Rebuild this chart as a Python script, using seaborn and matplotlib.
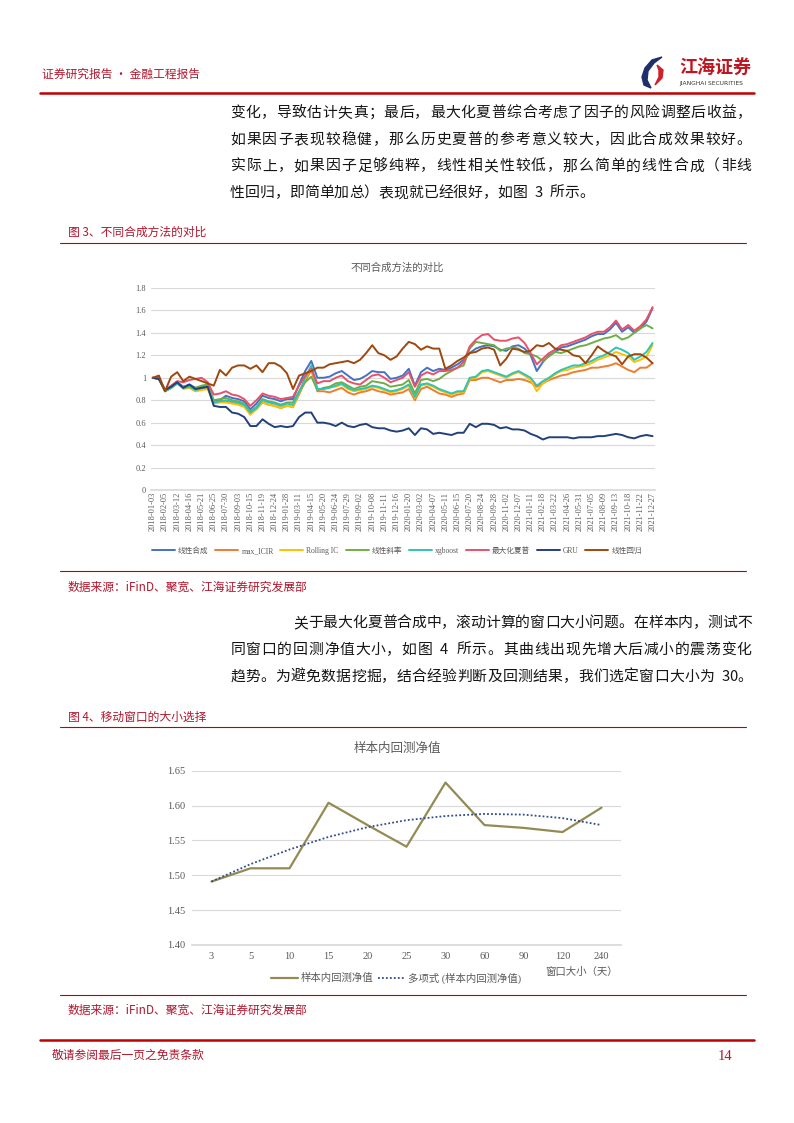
import numpy as np
import pandas as pd
import matplotlib
matplotlib.use("Agg")
import matplotlib.pyplot as plt
import seaborn as sns
from matplotlib.lines import Line2D
from matplotlib.patches import Polygon

sns.set_theme(style="white")
plt.rcParams['font.family'] = ['Noto Sans CJK SC', 'DejaVu Sans']
plt.rcParams['axes.unicode_minus'] = False

W, H = 794, 1123
RED = '#B0182E'
LINE_RED = '#C00000'
GRID = '#D9D9D9'
TICK = '#595959'
TEXT = '#151515'
SERIF = ['Liberation Serif', 'Noto Sans CJK SC']

# ---- fig 3: net value of the combination methods (two readings per date label) ----
tick_dates = ['2018-01-03', '2018-02-05', '2018-03-12', '2018-04-16', '2018-05-21', '2018-06-25',
              '2018-07-30', '2018-09-03', '2018-10-15', '2018-11-19', '2018-12-24', '2019-01-28',
              '2019-03-11', '2019-04-15', '2019-05-20', '2019-06-24', '2019-07-29', '2019-09-02',
              '2019-10-08', '2019-11-11', '2019-12-16', '2020-01-20', '2020-03-02', '2020-04-07',
              '2020-05-11', '2020-06-15', '2020-07-20', '2020-08-24', '2020-09-28', '2020-11-02',
              '2020-12-07', '2021-01-11', '2021-02-18', '2021-03-22', '2021-04-26', '2021-05-31',
              '2021-07-05', '2021-08-09', '2021-09-13', '2021-10-18', '2021-11-22', '2021-12-27']
methods = ['线性合成', 'max_ICIR', 'Rolling IC', '线性斜率', 'xgboost', '最大化夏普', 'GRU', '线性回归']
colors = ['#4472C4', '#ED7D31', '#FFC000', '#70AD47', '#2EC4B6', '#E9506A', '#22407A', '#9E480E']

linear_comb = [1.00, 1.00, 0.89, 0.92, 0.96, 0.92, 0.94, 0.91, 0.92, 0.93,
               0.79, 0.80, 0.84, 0.82, 0.81, 0.79, 0.72, 0.77, 0.84, 0.82,
               0.81, 0.79, 0.81, 0.81, 0.94, 1.06, 1.15, 1.00, 1.00, 1.01,
               1.04, 1.06, 1.02, 0.98, 0.99, 1.02, 1.06, 1.05, 1.05, 0.99,
               1.00, 1.02, 1.08, 0.93, 1.05, 1.09, 1.06, 1.08, 1.07, 1.09,
               1.12, 1.16, 1.22, 1.26, 1.28, 1.29, 1.28, 1.25, 1.24, 1.28,
               1.29, 1.26, 1.20, 1.06, 1.14, 1.20, 1.23, 1.27, 1.28, 1.30,
               1.32, 1.34, 1.37, 1.39, 1.39, 1.43, 1.49, 1.41, 1.45, 1.40,
               1.44, 1.50, 1.62]
max_icir = [1.00, 0.99, 0.88, 0.91, 0.95, 0.91, 0.92, 0.88, 0.90, 0.91,
            0.78, 0.79, 0.79, 0.78, 0.77, 0.75, 0.68, 0.72, 0.78, 0.76,
            0.75, 0.73, 0.75, 0.74, 0.85, 0.97, 1.07, 0.88, 0.88, 0.87,
            0.89, 0.91, 0.87, 0.85, 0.87, 0.88, 0.90, 0.88, 0.87, 0.85,
            0.86, 0.87, 0.90, 0.80, 0.90, 0.92, 0.89, 0.86, 0.85, 0.83,
            0.85, 0.86, 0.98, 0.98, 1.00, 1.00, 0.98, 0.96, 0.98, 0.98,
            0.99, 0.98, 0.96, 0.92, 0.95, 0.98, 1.00, 1.02, 1.03, 1.05,
            1.06, 1.07, 1.09, 1.09, 1.10, 1.11, 1.13, 1.10, 1.07, 1.05,
            1.09, 1.09, 1.13]
rolling_ic = [1.00, 0.99, 0.88, 0.91, 0.95, 0.90, 0.91, 0.88, 0.89, 0.90,
              0.77, 0.78, 0.78, 0.77, 0.76, 0.74, 0.67, 0.72, 0.78, 0.76,
              0.75, 0.73, 0.75, 0.74, 0.86, 0.99, 1.09, 0.90, 0.90, 0.92,
              0.92, 0.94, 0.90, 0.88, 0.89, 0.90, 0.92, 0.91, 0.89, 0.87,
              0.88, 0.90, 0.93, 0.82, 0.93, 0.94, 0.92, 0.89, 0.87, 0.85,
              0.87, 0.87, 0.99, 1.00, 1.05, 1.06, 1.04, 1.02, 1.00, 1.03,
              1.05, 1.02, 0.98, 0.88, 0.95, 0.99, 1.03, 1.06, 1.07, 1.09,
              1.10, 1.11, 1.13, 1.16, 1.18, 1.20, 1.23, 1.21, 1.19, 1.14,
              1.16, 1.19, 1.29]
linear_slope = [1.00, 0.99, 0.88, 0.91, 0.95, 0.92, 0.93, 0.91, 0.93, 0.94,
                0.80, 0.81, 0.82, 0.80, 0.79, 0.77, 0.70, 0.74, 0.81, 0.79,
                0.78, 0.76, 0.78, 0.78, 0.88, 0.96, 1.01, 0.89, 0.91, 0.92,
                0.95, 0.96, 0.93, 0.90, 0.92, 0.93, 0.97, 0.96, 0.95, 0.92,
                0.93, 0.94, 0.98, 0.86, 0.98, 0.99, 0.97, 0.99, 1.03, 1.06,
                1.09, 1.11, 1.26, 1.32, 1.31, 1.30, 1.29, 1.24, 1.26, 1.27,
                1.26, 1.22, 1.21, 1.19, 1.15, 1.19, 1.23, 1.22, 1.24, 1.26,
                1.28, 1.29, 1.31, 1.33, 1.35, 1.36, 1.38, 1.34, 1.36, 1.40,
                1.44, 1.47, 1.44]
xgboost = [1.00, 0.99, 0.88, 0.91, 0.95, 0.91, 0.92, 0.89, 0.91, 0.92,
           0.78, 0.79, 0.80, 0.79, 0.78, 0.76, 0.69, 0.73, 0.80, 0.78,
           0.77, 0.75, 0.77, 0.76, 0.87, 1.00, 1.11, 0.90, 0.90, 0.91,
           0.93, 0.95, 0.91, 0.89, 0.90, 0.91, 0.93, 0.92, 0.90, 0.88,
           0.89, 0.91, 0.94, 0.83, 0.94, 0.95, 0.93, 0.90, 0.88, 0.86,
           0.88, 0.88, 1.00, 1.01, 1.06, 1.07, 1.05, 1.03, 1.01, 1.04,
           1.06, 1.03, 1.00, 0.93, 0.97, 1.00, 1.04, 1.07, 1.09, 1.11,
           1.11, 1.13, 1.15, 1.18, 1.20, 1.23, 1.27, 1.25, 1.22, 1.16,
           1.19, 1.23, 1.31]
max_sharpe = [1.00, 0.99, 0.89, 0.93, 0.97, 0.96, 0.98, 0.99, 1.00, 0.96,
              0.85, 0.86, 0.88, 0.85, 0.84, 0.81, 0.75, 0.80, 0.86, 0.84,
              0.83, 0.81, 0.82, 0.83, 0.93, 1.02, 1.08, 0.95, 0.97, 0.97,
              1.00, 1.02, 0.97, 0.95, 0.94, 0.98, 1.02, 1.03, 1.00, 0.96,
              0.98, 1.00, 1.05, 0.92, 1.02, 1.05, 1.03, 1.06, 1.06, 1.07,
              1.09, 1.14, 1.28, 1.34, 1.38, 1.39, 1.34, 1.33, 1.33, 1.35,
              1.36, 1.31, 1.22, 1.12, 1.17, 1.22, 1.25, 1.29, 1.30, 1.32,
              1.34, 1.36, 1.39, 1.41, 1.41, 1.45, 1.51, 1.43, 1.47, 1.42,
              1.46, 1.52, 1.63]
gru = [1.00, 0.99, 0.89, 0.92, 0.96, 0.91, 0.94, 0.90, 0.91, 0.92,
       0.75, 0.74, 0.74, 0.69, 0.68, 0.65, 0.57, 0.57, 0.63, 0.59,
       0.56, 0.57, 0.56, 0.57, 0.65, 0.69, 0.69, 0.60, 0.60, 0.59,
       0.57, 0.60, 0.57, 0.56, 0.58, 0.59, 0.56, 0.55, 0.55, 0.53,
       0.52, 0.53, 0.55, 0.49, 0.55, 0.54, 0.50, 0.51, 0.50, 0.49,
       0.51, 0.51, 0.59, 0.56, 0.59, 0.59, 0.58, 0.55, 0.56, 0.54,
       0.54, 0.53, 0.50, 0.48, 0.45, 0.47, 0.47, 0.47, 0.47, 0.46,
       0.47, 0.47, 0.47, 0.48, 0.48, 0.49, 0.50, 0.49, 0.47, 0.46,
       0.48, 0.49, 0.48]
linear_reg = [1.00, 1.02, 0.88, 1.01, 1.05, 0.97, 1.01, 0.99, 0.97, 0.95,
              0.93, 1.07, 1.02, 1.09, 1.11, 1.11, 1.08, 1.11, 1.05, 1.13,
              1.13, 1.10, 1.04, 0.90, 1.02, 1.04, 1.06, 1.09, 1.09, 1.12,
              1.13, 1.14, 1.15, 1.13, 1.16, 1.22, 1.29, 1.22, 1.20, 1.16,
              1.19, 1.26, 1.32, 1.30, 1.25, 1.28, 1.26, 1.26, 1.08, 1.11,
              1.15, 1.18, 1.22, 1.23, 1.26, 1.27, 1.25, 1.11, 1.17, 1.26,
              1.25, 1.23, 1.24, 1.29, 1.28, 1.31, 1.26, 1.25, 1.24, 1.20,
              1.19, 1.13, 1.20, 1.28, 1.24, 1.21, 1.19, 1.12, 1.19, 1.21,
              1.21, 1.18, 1.13]
y1_ticks = [0, 0.2, 0.4, 0.6, 0.8, 1.0, 1.2, 1.4, 1.6, 1.8]
y1_labels = ['0', '0.2', '0.4', '0.6', '0.8', '1', '1.2', '1.4', '1.6', '1.8']

# ---- fig 4: in-sample net value by rolling window ----
windows = ['3', '5', '10', '15', '20', '25', '30', '60', '90', '120', '240']
net_value = [1.491, 1.510, 1.510, 1.604, 1.572, 1.541, 1.633, 1.572, 1.568, 1.562, 1.597]
poly_trend = [1.491, 1.516, 1.537, 1.555, 1.569, 1.579, 1.585, 1.588, 1.587, 1.582, 1.572]
y2_ticks = [1.40, 1.45, 1.50, 1.55, 1.60, 1.65]

para1 = ['变化，导致估计失真；最后，最大化夏普综合考虑了因子的风险调整后收益，',
         '如果因子表现较稳健，那么历史夏普的参考意义较大，因此合成效果较好。',
         '实际上，如果因子足够纯粹，线性相关性较低，那么简单的线性合成（非线',
         '性回归，即简单加总）表现就已经很好，如图 3 所示。']
para2 = ['关于最大化夏普合成中，滚动计算的窗口大小问题。在样本内，测试不',
         '同窗口的回测净值大小，如图 4 所示。其曲线出现先增大后减小的震荡变化',
         '趋势。为避免数据挖掘，结合经验判断及回测结果，我们选定窗口大小为 30。']
source = '数据来源：iFinD、聚宽、江海证券研究发展部'

fig = plt.figure(figsize=(W / 100, H / 100), dpi=100)
bg = fig.add_axes([0, 0, 1, 1])
bg.set_xlim(0, W)
bg.set_ylim(H, 0)
bg.axis('off')


def px_axes(x0, y0, x1, y1):
    return fig.add_axes([x0 / W, 1 - y1 / H, (x1 - x0) / W, (y1 - y0) / H])


def put_line(x0, x1, y, s, size=10.7, justify=True):
    # spread the characters over the line like justified text
    weights = [0.5 if ord(c) < 128 else 1.0 for c in s]
    unit = (x1 - x0) / sum(weights) if justify else size * 100 / 72
    x = x0
    for c, w in zip(s, weights):
        bg.text(x + unit * w / 2, y, c, fontsize=size, ha='center', va='center', color=TEXT)
        x += unit * w


# header
bg.text(42, 74, '证券研究报告 · 金融工程报告', color=RED, fontsize=8.5, va='center')
bg.add_patch(Polygon([(662, 57), (652, 60), (645, 68), (642, 77), (644, 85), (651, 88),
                      (647, 80), (648, 71), (654, 63)], closed=True, color='#1F2F6B'))
bg.add_patch(Polygon([(657, 65), (663, 70), (662, 78), (655, 85), (659, 77), (659, 70)],
                     closed=True, color='#D0202A'))
bg.text(679, 67, '江海证券', color='#C0141E', fontsize=13, fontweight='bold', va='center')
bg.text(679, 84, 'JIANGHAI SECURITIES', color='#333333', fontsize=4.3, va='center',
        family='DejaVu Sans')
bg.plot([40, 754], [93, 93], color=LINE_RED, lw=1.8)

# body text
for i, s in enumerate(para1):
    put_line(230, 752, 113 + 26.7 * i, s, justify=(i < 3))
for i, s in enumerate(para2):
    put_line(293 if i == 0 else 230, 752, 623 + 27 * i, s)

# captions and rules
bg.text(68, 232, '图 3、不同合成方法的对比', color=RED, fontsize=8.5, va='center')
bg.plot([60, 746], [243, 243], color=LINE_RED, lw=0.8)
bg.plot([60, 746], [571, 571], color=LINE_RED, lw=0.8)
bg.text(68, 587, source, color=RED, fontsize=8.5, va='center')
bg.text(68, 717, '图 4、移动窗口的大小选择', color=RED, fontsize=8.5, va='center')
bg.plot([60, 746], [727, 727], color=LINE_RED, lw=0.8)
bg.plot([60, 746], [995, 995], color=LINE_RED, lw=0.8)
bg.text(68, 1010, source, color=RED, fontsize=8.5, va='center')

# footer
bg.plot([40, 754], [1040, 1040], color=LINE_RED, lw=1.8)
bg.text(52, 1055, '敬请参阅最后一页之免责条款', color=RED, fontsize=8.5, va='center')
bg.text(718, 1056, '14', color=RED, fontsize=10.5, va='center', family='Liberation Serif')

# ---- chart 1 ----
series = [linear_comb, max_icir, rolling_ic, linear_slope, xgboost, max_sharpe, gru, linear_reg]
df1 = pd.concat([pd.DataFrame({'pos': np.arange(len(s)), 'nav': s, 'method': m})
                 for m, s in zip(methods, series)], ignore_index=True)

bg.text(397, 268, '不同合成方法的对比', fontsize=7.5, color=TICK, ha='center', va='center')
ax1 = px_axes(151, 288, 655, 490)
sns.lineplot(data=df1, x='pos', y='nav', hue='method', hue_order=methods, palette=colors,
             lw=1.4, ax=ax1, legend=False)
ax1.set_xlim(-0.3, 82.4)
ax1.set_ylim(0, 1.8)
ax1.set_yticks(y1_ticks)
ax1.set_yticklabels(y1_labels, fontsize=6, family=SERIF, color=TICK)
ax1.set_xticks(np.arange(0, 2 * len(tick_dates), 2))
ax1.set_xticklabels(tick_dates, rotation=90, fontsize=6, family=SERIF, color=TICK)
ax1.tick_params(axis='y', length=0, pad=3.5)
ax1.tick_params(axis='x', length=0, pad=1.5)
ax1.grid(axis='y', color=GRID, lw=0.8)
ax1.grid(axis='x', visible=False)
for sp in ['top', 'right', 'left']:
    ax1.spines[sp].set_visible(False)
ax1.spines['bottom'].set_color(GRID)
ax1.set_xlabel('')
ax1.set_ylabel('')
ax1.set_facecolor('none')

h1 = [Line2D([0], [0], color=c, lw=1.4) for c in colors]
fig.legend(h1, methods, loc='center', bbox_to_anchor=(397 / W, 1 - 551 / H), ncol=8,
           frameon=False, prop={'family': SERIF, 'size': 5.5}, labelcolor=TICK,
           handlelength=3.0, columnspacing=0.9, handletextpad=0.4)

# ---- chart 2 ----
bg.text(397, 748, '样本内回测净值', fontsize=9, color=TICK, ha='center', va='center')
ax2 = px_axes(192, 770.7, 621, 945)
xpos = np.arange(len(windows))
sns.lineplot(x=xpos, y=net_value, color='#948A54', lw=1.6, ax=ax2)
sns.lineplot(x=xpos, y=poly_trend, color='#2F4B8C', lw=1.3, linestyle=(0, (1, 1.2)), ax=ax2)
ax2.set_xlim(-0.5, len(windows) - 0.5)
ax2.set_ylim(1.40, 1.65)
ax2.set_yticks(y2_ticks)
ax2.set_yticklabels([f'{v:.2f}' for v in y2_ticks], fontsize=7.5, family=SERIF, color=TICK)
ax2.set_xticks(xpos)
ax2.set_xticklabels(windows, fontsize=7.5, family=SERIF, color=TICK)
ax2.tick_params(axis='y', length=0, pad=4.5)
ax2.tick_params(axis='x', length=0, pad=5)
ax2.grid(axis='y', color=GRID, lw=0.8)
ax2.grid(axis='x', visible=False)
for sp in ['top', 'right', 'left']:
    ax2.spines[sp].set_visible(False)
ax2.spines['bottom'].set_color(GRID)
ax2.set_facecolor('none')

bg.text(581, 972, '窗口大小（天）', fontsize=7.5, color=TICK, ha='center', va='center')
h2 = [Line2D([0], [0], color='#948A54', lw=1.6),
      Line2D([0], [0], color='#2F4B8C', lw=1.3, linestyle=(0, (1, 1.2)))]
fig.legend(h2, ['样本内回测净值', '多项式 (样本内回测净值)'], loc='center',
           bbox_to_anchor=(396 / W, 1 - 978 / H), ncol=2, frameon=False,
           prop={'family': SERIF, 'size': 7.5}, labelcolor=TICK,
           handlelength=2.6, columnspacing=0.4, handletextpad=0.3)

fig.savefig('out.png', dpi=100)
